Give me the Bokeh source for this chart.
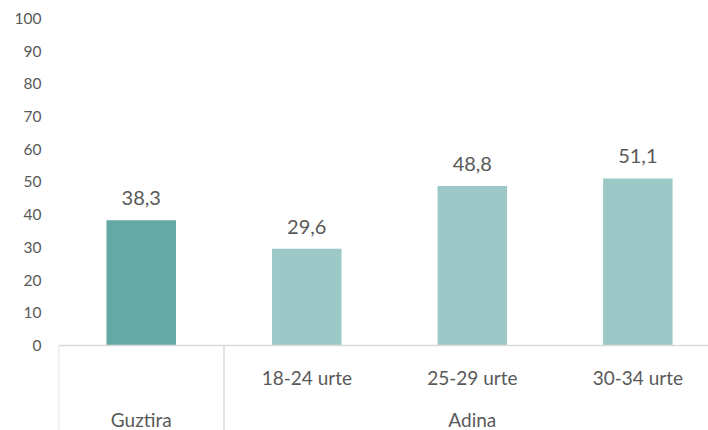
from bokeh.plotting import figure
from bokeh.models import ColumnDataSource, FixedTicker, Range1d
from bokeh.core.properties import value
from bokeh.embed import file_html
from bokeh.resources import INLINE

# ---- data ----
categories = ["Guztira", "18-24 urte", "25-29 urte", "30-34 urte"]
values = [38.3, 29.6, 48.8, 51.1]
bar_colors = ["#64a9a6", "#9cc8c7", "#9cc8c7", "#9cc8c7"]
groups = ["Guztira", "Adina"]
group_members = [[0], [1, 2, 3]]
y_ticks = [0, 10, 20, 30, 40, 50, 60, 70, 80, 90, 100]

FONT = "Lato"
TEXT_COLOR = "#595959"
LINE_COLOR = "#d9d9d9"

x = list(range(len(categories)))
labels = [f"{v:.1f}".replace(".", ",") for v in values]

src = ColumnDataSource(dict(x=x, top=values, color=bar_colors, label=labels, cat=categories))

X_MAX = 3.427
Y_MIN = -26.0

p = figure(width=708, height=430, output_backend="svg", toolbar_location=None,
           x_range=Range1d(-0.5, X_MAX), y_range=Range1d(Y_MIN, 100),
           min_border_left=58, min_border_right=0, min_border_top=18, min_border_bottom=0)
p.outline_line_color = None
p.xgrid.visible = False
p.ygrid.visible = False
p.xaxis.visible = False

ya = p.yaxis[0]
ya.ticker = FixedTicker(ticks=y_ticks)
ya.axis_line_color = None
ya.major_tick_line_color = None
ya.minor_tick_line_color = None
ya.major_tick_in = 0
ya.major_tick_out = 0
ya.major_label_standoff = 17
ya.major_label_text_font = FONT
ya.major_label_text_font_size = "15.5px"
ya.major_label_text_color = TEXT_COLOR

# bars
p.vbar(x="x", top="top", bottom=0, width=0.42, color="color", line_color=None, source=src)

# data labels
p.text(x="x", y="top", text="label", source=src, text_align="center", text_baseline="middle",
       y_offset=-22, text_font=value(FONT), text_font_size="20px", text_color=TEXT_COLOR)

# category axis: baseline and separators
y0 = 0
p.segment(x0=[-0.5], y0=[y0], x1=[X_MAX], y1=[y0], line_color=LINE_COLOR, line_width=1.5)
sep_x = [-0.5] + [max(m) + 0.5 for m in group_members[:-1]]
p.segment(x0=sep_x, y0=[y0] * len(sep_x), x1=sep_x, y1=[Y_MIN] * len(sep_x),
          line_color=LINE_COLOR, line_width=1.5)

# first-level labels (not for the single "Guztira" column)
sub_x = [i for m in group_members if len(m) > 1 for i in m]
p.text(x=sub_x, y=[-9.8] * len(sub_x), text=[categories[i] for i in sub_x],
       text_align="center", text_baseline="middle",
       text_font=value(FONT), text_font_size="19px", text_color=TEXT_COLOR)

# group labels
gx = [sum(m) / len(m) for m in group_members]
p.text(x=gx, y=[-22.6] * len(gx), text=groups, text_align="center", text_baseline="middle",
       text_font=value(FONT), text_font_size="19px", text_color=TEXT_COLOR)

open("out.html", "w").write(file_html(p, INLINE))
